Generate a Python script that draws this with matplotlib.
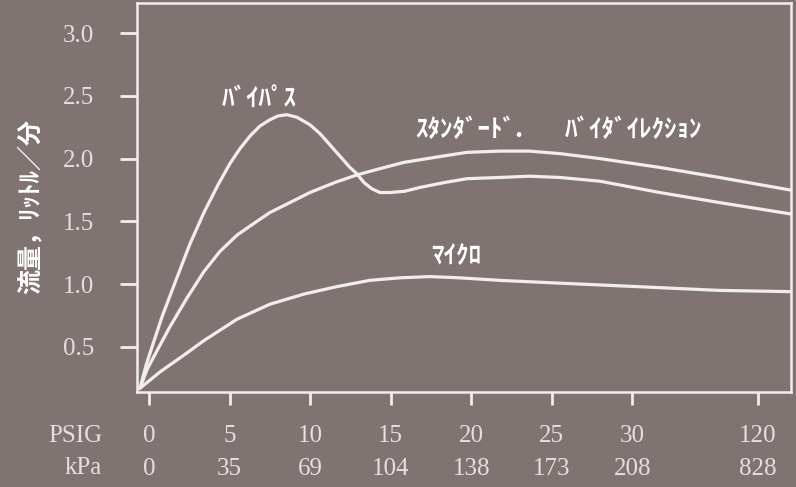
import matplotlib
matplotlib.use("Agg")
import matplotlib.pyplot as plt

# x values are in PSIG-axis units (0..30 linear, 120 PSIG drawn at 37.8)
bypass_x = [-0.56, -0.19, 0.19, 0.81, 1.61, 2.54, 3.41, 4.28, 5.02, 5.65, 6.27, 6.89, 7.51, 8.0, 8.56,
            9.18, 9.99, 10.61, 11.23, 11.85, 12.47, 12.9, 13.34, 13.83, 14.33, 14.95, 15.88, 16.81,
            18.36, 19.73, 21.8, 23.6, 25.5, 28.0, 31.7, 35.4, 39.8]
bypass_y = [0.17, 0.35, 0.50, 0.74, 1.01, 1.32, 1.57, 1.79, 1.96, 2.08, 2.18, 2.26, 2.31, 2.34, 2.35,
            2.33, 2.27, 2.20, 2.11, 2.02, 1.93, 1.88, 1.81, 1.76, 1.73, 1.73, 1.74, 1.77,
            1.81, 1.84, 1.85, 1.86, 1.85, 1.82, 1.73, 1.65, 1.56]

std_x = [-0.56, -0.12, 0.5, 1.3, 2.36, 3.41, 4.4, 5.46, 6.58, 7.5, 8.75, 9.99, 11.54, 12.9, 14.33,
         15.82, 17.74, 19.73, 21.8, 23.6, 25.5, 28.0, 31.7, 35.4, 39.8]
std_y = [0.17, 0.32, 0.47, 0.66, 0.89, 1.10, 1.26, 1.39, 1.49, 1.57, 1.65, 1.73, 1.81, 1.87, 1.92,
         1.97, 2.01, 2.05, 2.06, 2.06, 2.04, 2.00, 1.93, 1.85, 1.75]

micro_x = [-0.56, 0.68, 2.23, 3.41, 5.46, 7.51, 9.6, 11.66, 13.7, 15.57, 17.43, 19.29, 21.77, 25.1,
           30.3, 35.4, 39.8]
micro_y = [0.17, 0.30, 0.44, 0.55, 0.72, 0.84, 0.92, 0.98, 1.03, 1.05, 1.06, 1.05, 1.03, 1.01,
           0.98, 0.95, 0.94]

tick_pos = [0, 5, 10, 15, 20, 25, 30, 37.8]
psig_labels = ["0", "5", "10", "15", "20", "25", "30", "120"]
kpa_labels = ["0", "35", "69", "104", "138", "173", "208", "828"]
y_ticks = [0.5, 1.0, 1.5, 2.0, 2.5, 3.0]

bg = "#807473"
fg = "#f2eeee"
txt = "#e6dfdf"
jp = ["Noto Sans CJK JP", "DejaVu Sans"]

fig = plt.figure(figsize=(7.96, 4.87), dpi=100, facecolor=bg)
ax = fig.add_axes([0.172, 0.195, 0.8217, 0.7988], facecolor=bg)

for xs, ys in [(bypass_x, bypass_y), (std_x, std_y), (micro_x, micro_y)]:
    ax.plot(xs, ys, color=fg, linewidth=2.3, solid_capstyle="round", solid_joinstyle="round")

ax.set_xlim(-0.75, 39.85)
ax.set_ylim(0.14, 3.24)

for s in ax.spines.values():
    s.set_color(fg)
    s.set_linewidth(1.8)

ax.set_yticks(y_ticks)
ax.set_yticklabels([f"{v:.1f}" for v in y_ticks])
ax.set_xticks(tick_pos)
ax.set_xticklabels([f"{p}\n{k}" for p, k in zip(psig_labels, kpa_labels)], linespacing=1.6)

ax.tick_params(axis="y", length=12, width=2, color=fg, pad=19,
               labelsize=18, labelcolor=txt)
ax.tick_params(axis="x", length=9, width=2, color=fg, pad=15,
               labelsize=18, labelcolor=txt)
for lab in ax.get_xticklabels() + ax.get_yticklabels():
    lab.set_family("Liberation Serif")

fig.text(0.128, 0.128, "PSIG\nkPa", ha="right", va="top", fontsize=18,
         color=txt, family="Liberation Serif", linespacing=1.6)

fig.text(0.038, 0.575, "流量，ﾘｯﾄﾙ／分", rotation=90, ha="center", va="center",
         fontsize=18, fontweight="bold", color="white", family=jp)

ax.text(4.5, 2.47, "ﾊﾞｲﾊﾟｽ", fontsize=18, fontweight="bold", color="white",
        family=jp, va="center")
ax.text(16.5, 2.23, "ｽﾀﾝﾀﾞｰﾄﾞ.", fontsize=18, fontweight="bold",
        color="white", family=jp, va="center")
ax.text(25.8, 2.23, "ﾊﾞｲﾀﾞｲﾚｸｼｮﾝ", fontsize=18, fontweight="bold",
        color="white", family=jp, va="center")
ax.text(17.5, 1.23, "ﾏｲｸﾛ", fontsize=18, fontweight="bold", color="white",
        family=jp, va="center")

fig.savefig("out.png", dpi=100, facecolor=bg)
